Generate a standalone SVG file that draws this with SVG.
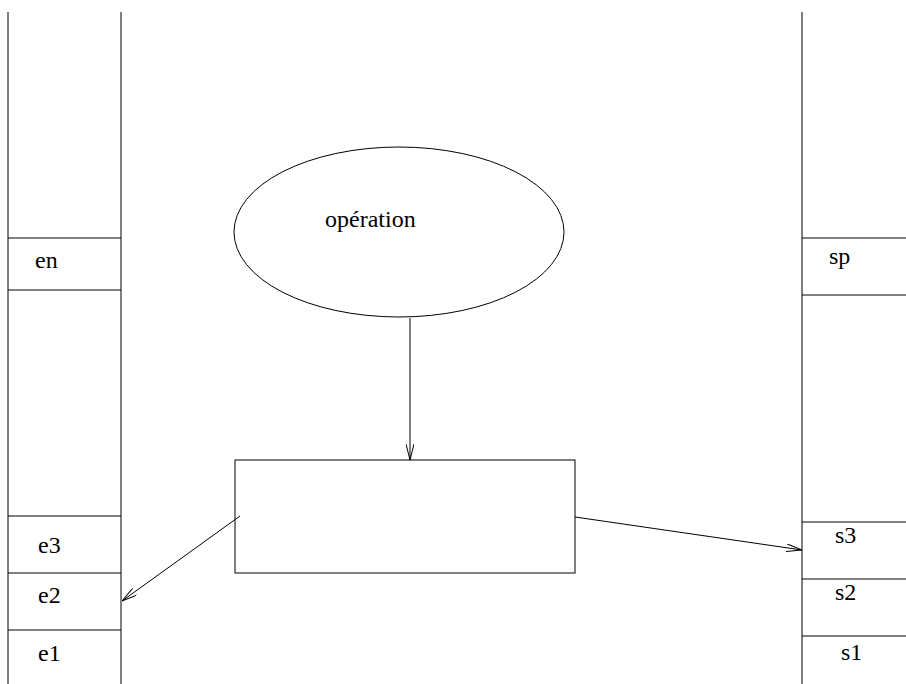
<svg xmlns="http://www.w3.org/2000/svg" width="906" height="684" viewBox="0 0 906 684">
<defs>
<style>
.ln{stroke:#000;stroke-width:1;fill:none}
.t{font-family:"Liberation Serif",serif;font-size:24px;fill:#000}
</style>
<marker id="ah" viewBox="0 0 16 8" refX="16" refY="4" markerWidth="16" markerHeight="8" markerUnits="userSpaceOnUse" orient="auto">
<path d="M0,0 L16,4 L0,8" fill="none" stroke="#000" stroke-width="1"/>
</marker>
</defs>
<rect width="906" height="684" fill="#fff"/>
<g id="left-column">
<line class="ln" x1="8" y1="12" x2="8" y2="684"/>
<line class="ln" x1="121" y1="12" x2="121" y2="684"/>
<line class="ln" x1="8" y1="238" x2="121" y2="238"/>
<line class="ln" x1="8" y1="290" x2="121" y2="290"/>
<line class="ln" x1="8" y1="516" x2="121" y2="516"/>
<line class="ln" x1="8" y1="573" x2="121" y2="573"/>
<line class="ln" x1="8" y1="630" x2="121" y2="630"/>
</g>
<g id="en"><text class="t" x="35" y="268">en</text></g>
<g id="e3"><text class="t" x="38" y="553">e3</text></g>
<g id="e2"><text class="t" x="38" y="603">e2</text></g>
<g id="e1"><text class="t" x="38" y="661">e1</text></g>
<g id="right-column">
<line class="ln" x1="802" y1="12" x2="802" y2="684"/>
<line class="ln" x1="802" y1="238" x2="906" y2="238"/>
<line class="ln" x1="802" y1="295" x2="906" y2="295"/>
<line class="ln" x1="802" y1="522" x2="906" y2="522"/>
<line class="ln" x1="802" y1="579" x2="906" y2="579"/>
<line class="ln" x1="802" y1="636" x2="906" y2="636"/>
</g>
<g id="sp"><text class="t" x="829" y="264">sp</text></g>
<g id="s3"><text class="t" x="835" y="543">s3</text></g>
<g id="s2"><text class="t" x="835" y="600">s2</text></g>
<g id="s1"><text class="t" x="841" y="660">s1</text></g>
<g id="operation">
<ellipse class="ln" cx="399" cy="232" rx="165" ry="85"/>
<text class="t" x="325" y="227">opération</text>
</g>
<g id="box">
<rect class="ln" x="235" y="460" width="340" height="113"/>
</g>
<g id="connectors">
<line class="ln" x1="410" y1="318" x2="410" y2="460" marker-end="url(#ah)"/>
<line class="ln" x1="240" y1="516" x2="122" y2="601" marker-end="url(#ah)"/>
<line class="ln" x1="575" y1="517" x2="802" y2="550" marker-end="url(#ah)"/>
</g>
</svg>
